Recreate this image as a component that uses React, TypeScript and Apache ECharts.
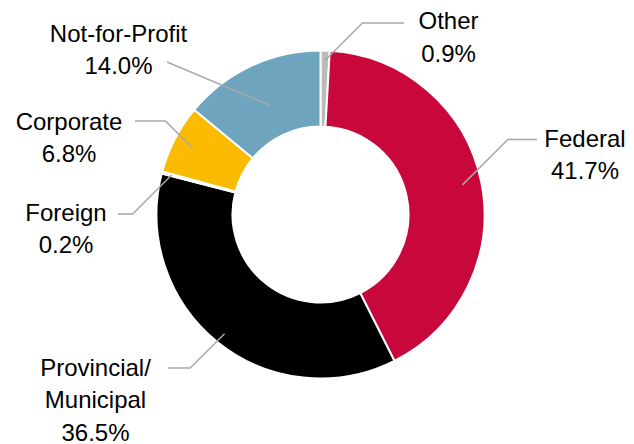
import React, { useEffect, useRef } from "react";
import * as echarts from "echarts";

// ---- data ----
const categories = ["Other", "Federal", "Provincial/\nMunicipal", "Foreign", "Corporate", "Not-for-Profit"];
const shares = [0.9, 41.7, 36.5, 0.2, 6.8, 14.0];
const colors = ["#BBBBBB", "#C8073B", "#000000", "#FFFFFF", "#FABB00", "#6FA4BE"];

// ---- label layout (positions of label text and leader lines) ----
// cx: text centre x, y1: centre of first text line, endX/endY: leader end next to text,
// r: radius at which the leader starts inside the slice, direct: no horizontal part
const labelPlaces = [
  { cx: 448.5, y1: 20.5, endX: 404, endY: 23, r: 154, direct: false },
  { cx: 585, y1: 138, endX: 537, endY: 139.5, r: 145, direct: false },
  { cx: 95.5, y1: 367, endX: 168, endY: 368, r: 153, direct: false },
  { cx: 66, y1: 212, endX: 118, endY: 214, r: 154, direct: false },
  { cx: 69, y1: 121, endX: 135, endY: 121, r: 144, direct: false },
  { cx: 118.5, y1: 33, endX: 167, endY: 62, r: 121, direct: true },
];

const W = 634;
const H = 444;
const CX = 320.5;
const CY = 214.5;
const R_IN = 88;
const R_OUT = 164;
const LINE_H = 32.5;

export default function App() {
  const ref = useRef<HTMLDivElement>(null);
  useEffect(() => {
    if (!ref.current) return;
    const chart = echarts.init(ref.current, undefined, { renderer: "svg" });
    const total = shares.reduce((a, b) => a + b, 0);
    const midAngles: number[] = [];
    let acc = 0;
    shares.forEach((v) => {
      midAngles.push(((acc + v / 2) / total) * 2 * Math.PI);
      acc += v;
    });
    const leaders = labelPlaces.map((lp, i) => {
      const a = midAngles[i];
      const sx = CX + Math.sin(a) * lp.r;
      const sy = CY - Math.cos(a) * lp.r;
      let pts: number[][];
      if (lp.direct) {
        pts = [[sx, sy], [lp.endX, lp.endY]];
      } else {
        const dy = Math.abs(lp.endY - sy);
        const ex = lp.endX > sx ? sx + dy : sx - dy;
        pts = [[sx, sy], [ex, lp.endY], [lp.endX, lp.endY]];
      }
      return {
        type: "polyline",
        z: 100,
        silent: true,
        shape: { points: pts },
        style: { stroke: "#A8A8A8", lineWidth: 1.5, fill: "none" },
      };
    });
    chart.setOption({
      animation: false,
      backgroundColor: "#ffffff",
      graphic: { elements: leaders },
      series: [
        {
          type: "pie",
          center: [CX, CY],
          radius: [R_IN, R_OUT],
          startAngle: 90,
          clockwise: true,
          avoidLabelOverlap: false,
          itemStyle: { borderColor: "#ffffff", borderWidth: 2 },
          emphasis: { disabled: true },
          label: {
            show: true,
            position: "outside",
            fontFamily: "Liberation Sans",
            fontSize: 24,
            lineHeight: LINE_H,
            color: "#000000",
            align: "center",
            formatter: (p: any) => `${p.name}\n${Number(p.value).toFixed(1)}%`,
          },
          labelLine: { show: false },
          labelLayout: (p: any) => {
            const lp = labelPlaces[p.dataIndex];
            return {
              x: lp.cx,
              y: lp.y1 - LINE_H / 2,
              align: "center",
              verticalAlign: "top",
            };
          },
          data: categories.map((name, i) => ({
            name,
            value: shares[i],
            itemStyle: { color: colors[i] },
          })),
        },
      ],
    });
    return () => chart.dispose();
  }, []);
  return (
    <div
      ref={ref}
      style={{ position: "fixed", left: 0, top: 0, width: W, height: H, background: "#fff" }}
    />
  );
}
